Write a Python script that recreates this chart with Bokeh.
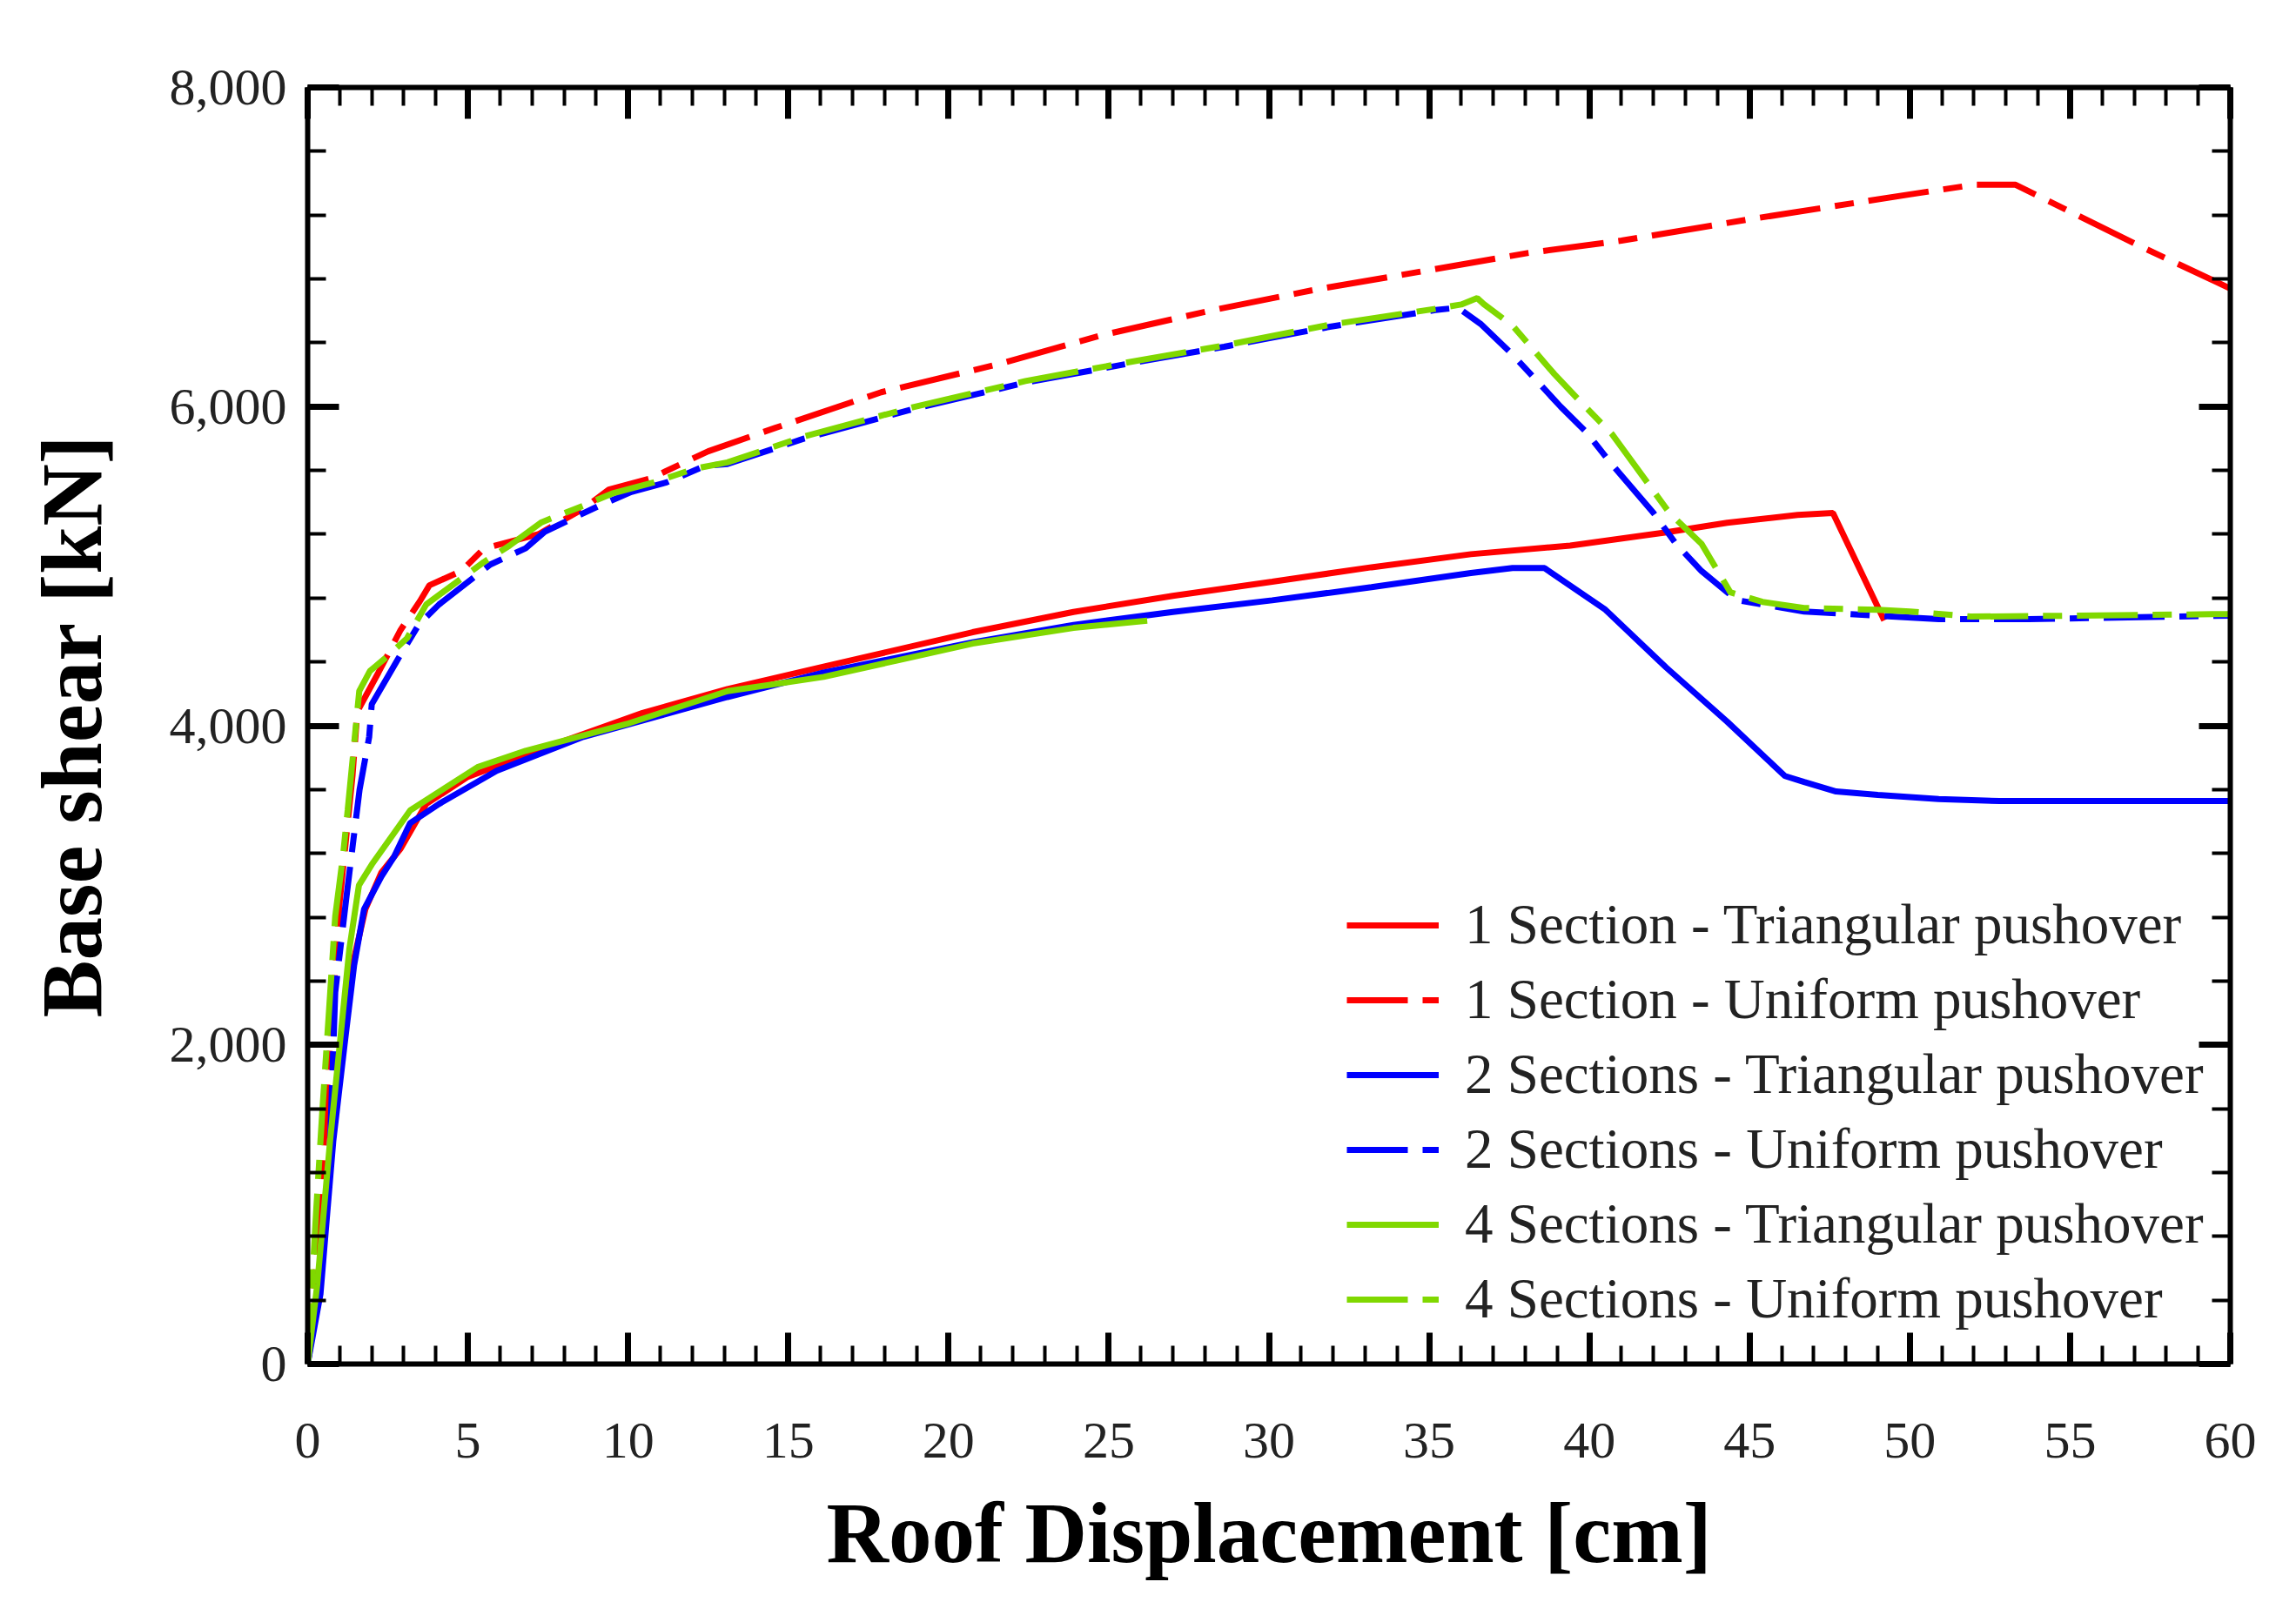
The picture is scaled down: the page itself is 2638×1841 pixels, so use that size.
from bokeh.plotting import figure
from bokeh.models import (LinearAxis, FixedTicker, NumeralTickFormatter, Legend,
                          LegendItem, Range1d, CustomJSTickFormatter)
from bokeh.embed import file_html
from bokeh.resources import INLINE

# ---------------- data ----------------
x_ticks = [0, 5, 10, 15, 20, 25, 30, 35, 40, 45, 50, 55, 60]
y_ticks = [0, 2000, 4000, 6000, 8000]

s1_tri_x = [0, 0.35, 0.75, 1.05, 1.4, 1.8, 2.3, 2.9, 3.7, 5.0, 7.75, 10.45, 13.1, 16.1,
            20.75, 23.9, 27.0, 30.1, 33.2, 36.3, 39.4, 42.4, 44.3, 46.5, 47.6, 49.2]
s1_tri_y = [0, 450, 1400, 2000, 2500, 2850, 3080, 3230, 3510, 3680, 3886, 4080, 4230, 4370,
            4586, 4713, 4814, 4903, 4993, 5075, 5129, 5212, 5272, 5321, 5333, 4660]

s1_uni_x = [0, 0.3, 0.6, 1.0, 1.4, 1.55, 2.2, 2.9, 3.5, 3.8, 4.8, 5.5, 7.2, 8.6, 9.4, 10.7,
            12.5, 14.6, 17.9, 21.5, 24.8, 28.25, 31.5, 35.0, 38.1, 41.0, 45.0, 50.0, 52.0,
            53.3, 57.2, 60]
s1_uni_y = [0, 700, 1700, 2900, 3690, 4090, 4330, 4600, 4780, 4880, 4970, 5110, 5200, 5360,
            5480, 5550, 5720, 5867, 6090, 6263, 6448, 6605, 6735, 6855, 6963, 7040, 7174,
            7330, 7390, 7390, 7004, 6740]

s2_tri_x = [0, 0.4, 0.8, 1.15, 1.45, 1.76, 2.3, 2.7, 3.2, 4.1, 5.9, 8.6, 13.1, 16.1, 20.75,
            23.9, 27.0, 30.1, 33.2, 36.3, 37.6, 38.6, 40.5, 42.4, 44.3, 46.1, 46.7, 47.7,
            49.0, 50.9, 52.8, 60]
s2_tri_y = [0, 440, 1400, 2000, 2500, 2850, 3055, 3180, 3390, 3510, 3718, 3930, 4180, 4333,
            4523, 4632, 4713, 4786, 4868, 4957, 4988, 4988, 4727, 4364, 4025, 3685, 3648,
            3588, 3566, 3540, 3528, 3528]

s2_uni_x = [0, 0.4, 0.65, 0.86, 1.2, 1.4, 1.62, 1.92, 2.0, 2.84, 3.47, 4.1, 5.7, 6.8, 7.4,
            9.1, 10.1, 11.2, 12.4, 13.1, 15.5, 18.9, 22.4, 25.5, 28.6, 31.9, 35.2, 35.9,
            36.6, 37.6, 39.1, 39.9, 40.66, 42.0, 42.7, 43.5, 44.6, 46.7, 49.0, 50.9, 53.7, 60]
s2_uni_y = [0, 560, 1100, 2330, 2910, 3240, 3600, 3930, 4135, 4425, 4635, 4760, 5010, 5112,
            5216, 5379, 5465, 5525, 5628, 5640, 5800, 5985, 6150, 6265, 6375, 6500, 6605,
            6620, 6519, 6326, 6000, 5841, 5648, 5333, 5140, 4969, 4787, 4716, 4689, 4668,
            4668, 4690]

s4_tri_x = [0, 0.3, 0.7, 1.0, 1.3, 1.6, 2.0, 3.2, 5.3, 6.8, 9.96, 13.1, 16.1, 20.75, 23.9, 26.2]
s4_tri_y = [0, 500, 1400, 2000, 2600, 3000, 3130, 3470, 3740, 3843, 4011, 4217, 4306, 4515,
            4613, 4658]

s4_uni_x = [0, 0.27, 0.45, 0.67, 0.86, 1.1, 1.25, 1.61, 1.94, 2.4, 3.1, 3.7, 5.5, 6.3, 7.3,
            8.6, 9.5, 10.8, 12.1, 13.1, 15.5, 18.9, 22.4, 25.5, 28.6, 31.9, 35.2, 36.0, 36.5,
            36.7, 37.6, 38.9, 39.7, 40.7, 41.8, 42.5, 43.5, 44.4, 45.4, 46.7, 49.0, 50.0,
            51.9, 54.8, 60]
s4_uni_y = [0, 975, 1563, 2225, 2806, 3180, 3473, 4217, 4342, 4420, 4548, 4760, 5026, 5129,
            5275, 5379, 5455, 5525, 5612, 5650, 5813, 5997, 6160, 6274, 6383, 6513, 6613,
            6640, 6680, 6643, 6508, 6205, 6035, 5829, 5526, 5333, 5140, 4836, 4776, 4738,
            4727, 4716, 4684, 4689, 4700]

labels = ["1 Section - Triangular pushover", "1 Section - Uniform pushover",
          "2 Sections - Triangular pushover", "2 Sections - Uniform pushover",
          "4 Sections - Triangular pushover", "4 Sections - Uniform pushover"]

RED = "#FF0000"
BLUE = "#0000FF"
GREEN = "#80D800"
DASH = "70 17 22 17"
SERIF = "Liberation Serif"
LW = 7

# ---------------- figure ----------------
p = figure(width=2620, height=1824, output_backend="svg", toolbar_location=None,
           x_range=Range1d(0, 60), y_range=Range1d(0, 8000),
           min_border_left=353, min_border_top=100, min_border_right=58,
           min_border_bottom=257, background_fill_color="white",
           border_fill_color="white")
p.outline_line_color = None
p.xgrid.visible = False
p.ygrid.visible = False


def style_axis(ax, labelled):
    ax.axis_line_width = 6
    ax.axis_line_color = "black"
    ax.major_tick_in = 36
    ax.major_tick_out = 0
    ax.minor_tick_in = 21
    ax.minor_tick_out = 0
    ax.major_tick_line_width = 7
    ax.minor_tick_line_width = 4
    ax.major_tick_line_color = "black"
    ax.minor_tick_line_color = "black"
    ax.major_label_text_font = SERIF
    ax.major_label_text_font_size = "60px"
    ax.major_label_text_color = "#222222"
    if labelled:
        ax.axis_label_text_font = SERIF
        ax.axis_label_text_font_size = "99px"
        ax.axis_label_text_font_style = "bold"
        ax.axis_label_text_color = "black"
    else:
        ax.formatter = CustomJSTickFormatter(code="return ''")
        ax.major_label_standoff = 0


xa = p.xaxis[0]
xa.ticker = FixedTicker(ticks=x_ticks, minor_ticks=list(range(0, 61)))
xa.axis_label = "Roof Displacement [cm]"
style_axis(xa, True)
xa.major_label_standoff = 68
xa.axis_label_standoff = 29

ya = p.yaxis[0]
ya.ticker = FixedTicker(ticks=y_ticks, minor_ticks=list(range(0, 8001, 400)))
ya.formatter = NumeralTickFormatter(format="0,0")
ya.axis_label = "Base shear [kN]"
style_axis(ya, True)
ya.major_label_standoff = 24
ya.axis_label_standoff = 55

top = LinearAxis(ticker=FixedTicker(ticks=x_ticks, minor_ticks=list(range(0, 61))))
style_axis(top, False)
p.add_layout(top, "above")
right = LinearAxis(ticker=FixedTicker(ticks=y_ticks, minor_ticks=list(range(0, 8001, 400))))
style_axis(right, False)
p.add_layout(right, "right")

# ---------------- lines ----------------
r1 = p.line(s1_tri_x, s1_tri_y, line_color=RED, line_width=LW)
r2 = p.line(s1_uni_x, s1_uni_y, line_color=RED, line_width=LW, line_dash=DASH)
r3 = p.line(s2_tri_x, s2_tri_y, line_color=BLUE, line_width=LW)
r4 = p.line(s2_uni_x, s2_uni_y, line_color=BLUE, line_width=LW, line_dash=DASH)
r5 = p.line(s4_tri_x, s4_tri_y, line_color=GREEN, line_width=LW)
r6 = p.line(s4_uni_x, s4_uni_y, line_color=GREEN, line_width=LW, line_dash=DASH)

items = [LegendItem(label=lab, renderers=[r]) for lab, r in zip(labels, [r1, r2, r3, r4, r5, r6])]
legend = Legend(items=items, location=(1194, 37), padding=0, margin=0,
                spacing=11, glyph_width=106, glyph_height=40, label_height=40,
                label_standoff=30, label_text_font=SERIF, label_text_font_size="65px",
                label_text_color="#222222", border_line_alpha=0,
                background_fill_alpha=0)
p.add_layout(legend)

open("out.html", "w").write(file_html(p, INLINE))
